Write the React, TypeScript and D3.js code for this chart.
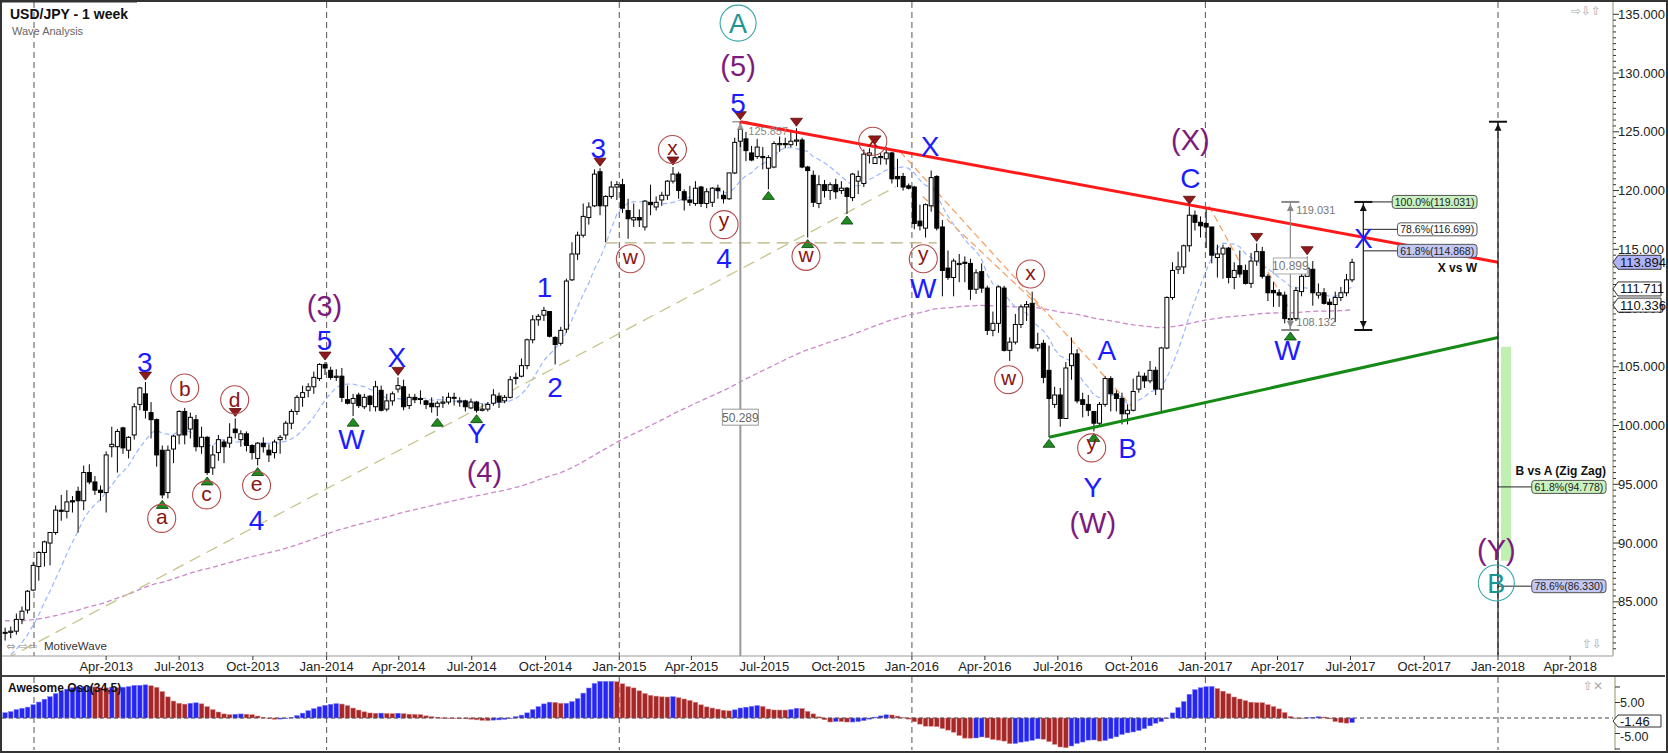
import React from 'react';
import * as d3 from 'd3';

const FONT = "'Liberation Sans', Arial, Helvetica, sans-serif";
const SYM = "'DejaVu Sans', sans-serif";

// Weekly bars [open, high, low, close]; first bar = week of 26 Nov 2012
const bars2012: number[][] = [
  [82.4, 82.8, 81.7, 82.4], [82.4, 82.9, 81.9, 82.5], [82.5, 84.0, 82.2, 83.5],
  [83.5, 84.6, 83.1, 84.2], [84.3, 86.0, 84.0, 85.9], [86.0, 88.4, 85.9, 88.1],
];
const bars2013: number[][] = [
  [88.0, 89.3, 86.8, 89.2], [89.2, 90.2, 88.0, 90.1], [90.0, 90.9, 88.1, 90.9], [90.9, 93.2, 90.7, 92.8],
  [92.8, 94.1, 91.9, 92.7], [92.7, 94.5, 92.1, 93.5], [93.6, 94.0, 92.6, 93.5], [94.4, 94.8, 90.9, 93.6],
  [93.6, 96.6, 92.8, 96.0], [96.0, 96.7, 95.0, 95.2], [95.2, 95.7, 94.1, 94.5], [94.5, 94.9, 93.6, 94.3],
  [94.3, 97.8, 92.6, 97.5], [98.2, 99.9, 97.3, 98.4], [98.2, 99.7, 96.0, 99.5], [99.8, 99.9, 97.6, 98.1],
  [97.9, 99.1, 97.2, 99.0], [99.2, 101.9, 98.8, 101.6], [101.8, 103.3, 101.3, 103.2], [102.7, 103.7, 100.6, 101.3],
  [101.1, 102.0, 98.9, 100.5], [100.5, 100.6, 96.5, 97.5], [97.9, 98.3, 93.8, 94.1], [94.3, 98.3, 93.8, 97.9],
  [98.0, 99.2, 96.8, 99.1], [99.2, 101.3, 98.4, 101.2], [101.2, 101.5, 98.4, 99.2], [99.7, 101.1, 98.9, 100.7],
  [100.5, 100.9, 97.8, 98.2], [98.2, 99.9, 97.6, 99.0], [99.0, 99.1, 95.8, 96.0], [96.4, 98.3, 95.8, 97.5],
  [97.7, 99.2, 97.0, 98.8], [98.6, 98.8, 96.8, 98.2], [98.5, 100.2, 98.1, 99.0], [99.7, 100.6, 98.9, 99.4],
  [98.8, 99.6, 98.2, 99.3], [99.3, 99.5, 97.8, 98.3], [98.3, 98.4, 97.1, 97.7], [97.2, 98.6, 96.6, 98.5],
  [98.5, 99.0, 97.7, 98.2], [97.9, 98.4, 96.9, 97.5], [97.7, 98.8, 97.2, 98.6], [98.8, 99.2, 97.6, 99.0],
  [99.2, 100.4, 98.8, 100.2], [100.2, 101.4, 99.7, 101.2], [101.2, 102.6, 100.9, 102.4], [102.4, 103.4, 101.6, 102.8],
  [103.0, 103.6, 102.4, 103.3], [103.3, 104.6, 102.7, 104.1], [104.0, 105.3, 103.8, 105.2], [105.2, 105.4, 104.3, 104.9],
];
const bars2014: number[][] = [
  [104.7, 105.0, 103.9, 104.1], [104.1, 104.8, 103.8, 104.2], [104.2, 104.9, 102.0, 102.4], [102.2, 103.4, 101.8, 101.9],
  [101.9, 102.7, 100.8, 102.3], [102.6, 102.8, 101.5, 101.7], [101.6, 102.7, 101.4, 102.4], [102.5, 102.6, 101.2, 101.8],
  [101.6, 103.8, 101.2, 103.3], [103.0, 103.4, 101.2, 101.3], [101.4, 102.7, 101.2, 102.1], [102.1, 102.9, 101.7, 102.7],
  [103.1, 104.1, 102.8, 103.4], [103.3, 103.9, 101.3, 101.6], [101.7, 102.7, 101.4, 102.4], [102.4, 102.7, 101.9, 102.2],
  [102.3, 103.0, 101.8, 102.3], [102.1, 102.2, 101.4, 101.8], [101.9, 102.4, 101.1, 101.6], [101.6, 102.1, 100.8, 101.9],
  [101.9, 102.5, 101.5, 102.0], [102.0, 102.8, 101.8, 102.4], [102.4, 102.8, 101.7, 102.4], [102.0, 102.4, 101.6, 102.1],
  [102.1, 102.2, 101.2, 101.6], [101.5, 102.3, 101.4, 102.0], [102.0, 102.1, 101.1, 101.3], [101.3, 101.9, 101.2, 101.4],
  [101.4, 102.0, 101.2, 101.8], [101.9, 103.1, 101.7, 102.6], [102.5, 102.8, 101.5, 102.0], [102.1, 102.6, 101.9, 102.4],
  [102.4, 104.2, 102.3, 103.9], [104.0, 104.5, 103.5, 104.1], [104.2, 105.7, 104.1, 105.1], [105.1, 107.4, 104.8, 107.3],
  [107.3, 109.4, 107.0, 109.0], [109.0, 109.5, 108.5, 109.3], [109.4, 110.1, 108.9, 109.8], [109.7, 109.7, 107.5, 107.6],
  [107.5, 107.6, 105.2, 106.9], [107.0, 108.4, 106.8, 108.1], [108.2, 112.5, 107.9, 112.3], [112.4, 115.6, 112.3, 114.6],
  [114.6, 116.5, 114.1, 116.2], [116.2, 118.9, 116.0, 117.8], [117.7, 119.0, 117.1, 118.6], [118.7, 121.8, 118.6, 121.4],
  [121.6, 121.9, 117.9, 118.7], [118.7, 119.6, 115.6, 119.5], [119.5, 120.8, 119.3, 120.3], [120.3, 120.8, 119.2, 120.5],
];
const bars2015: number[][] = [
  [120.5, 121.0, 118.1, 118.5], [118.3, 119.3, 115.9, 117.6], [117.5, 118.9, 116.9, 117.7], [117.7, 118.4, 116.9, 117.5],
  [116.9, 119.2, 116.6, 119.1], [119.0, 120.5, 117.9, 118.8], [118.6, 119.5, 118.3, 119.0], [119.2, 119.9, 118.7, 119.6],
  [119.6, 120.9, 119.2, 120.8], [120.8, 122.0, 120.6, 121.4], [121.4, 121.6, 119.3, 120.0], [119.9, 120.1, 118.3, 119.2],
  [119.2, 120.4, 118.7, 119.0], [118.9, 120.8, 118.7, 120.2], [120.3, 120.4, 118.6, 118.9], [118.9, 120.2, 118.5, 119.9],
  [119.0, 120.3, 118.6, 120.2], [120.2, 120.5, 119.3, 120.0], [119.6, 120.0, 118.9, 119.3], [119.3, 121.5, 119.2, 121.5],
  [121.5, 124.5, 121.4, 124.1], [124.2, 125.857, 123.7, 125.2], [124.4, 125.0, 122.5, 123.4], [123.2, 123.8, 122.5, 122.6],
  [122.9, 124.4, 122.7, 123.7], [122.9, 123.7, 121.8, 122.8], [121.9, 123.0, 120.1, 122.8], [122.0, 124.2, 121.9, 124.0],
  [123.9, 124.6, 123.3, 124.0], [124.0, 124.5, 123.6, 123.9], [123.9, 125.0, 123.7, 124.2], [124.2, 125.3, 123.8, 124.3],
  [124.3, 124.5, 121.9, 122.0], [122.0, 122.1, 116.0, 121.7], [121.3, 121.7, 118.6, 119.0], [118.9, 121.3, 118.5, 120.5],
  [120.5, 120.9, 119.4, 120.0], [120.0, 120.7, 119.2, 120.5], [120.5, 121.0, 119.3, 119.9], [120.0, 120.8, 119.7, 120.2],
  [120.2, 120.3, 118.0, 119.5], [119.4, 121.5, 119.1, 121.4], [120.8, 121.7, 119.7, 121.2], [120.6, 123.5, 120.3, 123.1],
  [123.0, 123.6, 122.3, 123.2], [122.3, 123.8, 122.3, 122.8], [122.8, 123.2, 122.2, 122.9], [122.7, 123.7, 122.2, 123.2],
  [123.2, 123.3, 120.6, 121.0], [121.2, 122.7, 120.3, 121.0], [121.2, 121.5, 120.0, 120.3], [120.4, 120.6, 120.1, 120.2],
];
const bars2016: number[][] = [
  [120.3, 120.4, 116.7, 117.2], [117.4, 118.8, 116.6, 117.0], [116.8, 118.9, 116.0, 118.8], [118.7, 121.7, 118.2, 121.1],
  [121.2, 121.3, 116.6, 116.8], [116.9, 117.5, 111.0, 113.2], [113.4, 114.9, 112.4, 112.6], [112.6, 114.2, 111.0, 114.0],
  [113.7, 114.6, 112.2, 113.8], [113.9, 114.4, 112.2, 113.8], [113.8, 114.2, 110.7, 111.6], [111.6, 113.3, 111.2, 113.0],
  [113.1, 113.8, 111.3, 111.7], [111.7, 111.9, 107.7, 108.1], [108.1, 109.7, 107.6, 108.7], [108.7, 111.9, 107.9, 111.8],
  [111.7, 111.9, 106.3, 106.4], [106.4, 107.5, 105.5, 107.1], [107.1, 109.5, 106.9, 108.6], [108.6, 110.3, 108.3, 110.1],
  [110.1, 110.6, 108.9, 110.3], [110.4, 111.4, 106.5, 106.6], [106.6, 107.9, 106.3, 106.9], [107.0, 107.3, 103.6, 104.1],
  [104.7, 106.8, 99.0, 102.3], [101.8, 103.3, 101.5, 102.6], [102.6, 103.2, 99.9, 100.6], [100.6, 105.4, 100.6, 104.9],
  [105.1, 107.5, 103.9, 106.1], [106.1, 106.5, 101.9, 102.1], [102.2, 102.8, 100.7, 101.8], [101.8, 102.6, 100.8, 101.3],
  [101.2, 101.2, 99.5, 100.2], [100.2, 102.0, 99.9, 101.8], [101.8, 104.2, 101.6, 104.0], [104.0, 104.2, 101.2, 102.7],
  [102.7, 103.0, 101.2, 102.3], [102.3, 102.8, 100.1, 101.0], [101.0, 101.8, 100.1, 101.3], [101.3, 104.0, 101.2, 102.9],
  [103.1, 104.6, 102.8, 104.2], [104.2, 104.5, 103.2, 103.8], [103.8, 105.5, 103.6, 104.7], [104.7, 105.0, 102.6, 103.1],
  [103.1, 106.7, 101.2, 106.6], [106.6, 111.0, 106.5, 110.9], [110.9, 113.9, 110.7, 113.2], [113.3, 114.8, 112.9, 113.5],
  [113.5, 115.4, 112.9, 115.3], [115.3, 118.66, 114.8, 117.9], [117.9, 118.3, 116.6, 117.3], [117.3, 117.8, 116.0, 117.0],
];
const bars2017: number[][] = [
  [117.2, 118.6, 115.1, 116.9], [116.9, 116.9, 113.8, 114.5], [114.3, 115.4, 112.6, 114.6], [114.6, 115.4, 112.5, 115.1],
  [115.1, 115.2, 112.1, 112.6], [112.6, 113.9, 111.6, 113.2], [113.6, 114.9, 112.6, 112.9], [113.2, 113.7, 112.0, 112.1],
  [112.1, 114.7, 111.7, 114.0], [114.0, 115.5, 113.6, 114.8], [114.8, 115.2, 112.5, 112.7], [112.7, 112.9, 110.6, 111.3],
  [111.5, 112.2, 110.1, 111.3], [111.3, 111.6, 110.1, 111.1], [111.1, 111.4, 108.7, 109.1], [109.1, 109.5, 108.132, 109.0],
  [109.1, 111.8, 108.9, 111.5], [111.4, 112.9, 111.0, 112.7], [112.7, 114.37, 112.7, 113.4], [113.3, 114.0, 110.2, 111.3],
  [111.1, 112.1, 110.8, 111.3], [111.3, 111.7, 110.3, 110.4], [110.5, 110.8, 109.1, 110.3], [110.3, 111.4, 108.8, 110.9],
  [110.9, 111.8, 110.6, 111.3], [111.3, 112.9, 111.0, 112.4], [112.4, 114.2, 112.2, 113.894],
];
// weekly closes before the first bar (Apr-Nov 2012), used only to warm up the indicators
const priorCloses = [80.9, 81.5, 80.3, 79.8, 79.9, 79.0, 79.7, 78.3, 79.5, 78.7, 80.4, 79.8, 79.7, 79.2, 78.5, 78.3,
  78.4, 78.3, 79.5, 78.7, 78.3, 78.3, 78.4, 78.1, 77.9, 78.7, 78.4, 79.3, 79.9, 80.4, 79.5, 81.3, 82.4];

const quarterTicks = ['Apr-2013', 'Jul-2013', 'Oct-2013', 'Jan-2014', 'Apr-2014', 'Jul-2014', 'Oct-2014', 'Jan-2015',
  'Apr-2015', 'Jul-2015', 'Oct-2015', 'Jan-2016', 'Apr-2016', 'Jul-2016', 'Oct-2016', 'Jan-2017', 'Apr-2017',
  'Jul-2017', 'Oct-2017', 'Jan-2018', 'Apr-2018'];
const yearLines = ['Jan-2013', 'Jan-2014', 'Jan-2015', 'Jan-2016', 'Jan-2017', 'Jan-2018'];
const priceTicks = [85, 90, 95, 100, 105, 110, 115, 120, 125, 130, 135];
const oscTicks = [-10, -5, 0, 5, 10];
const oscLabels = [5, -5];

const lastClose = 113.894;
const fastMaLast = 111.711;
const slowMaLast = 110.336;
const aoLast = -1.46;
const slowEmaSeed = 83.4;

// wave labels: [text, week index, price]
const blueLabels: [string, number, number][] = [
  ['3', 24.9, 105.4], ['4', 44.8, 92.0], ['5', 56.9, 107.3], ['W', 61.7, 98.9], ['X', 69.8, 105.8],
  ['Y', 84.0, 99.4], ['1', 96.1, 111.8], ['2', 98.0, 103.3], ['3', 105.7, 123.6], ['4', 128.1, 114.3],
  ['5', 130.6, 127.5], ['X', 164.8, 123.8], ['W', 163.6, 111.7], ['A', 196.3, 106.4], ['Y', 193.8, 94.8],
  ['B', 200.0, 98.1], ['C', 211.2, 121.1], ['W', 228.5, 106.4], ['X', 242.0, 116.0],
];
const purpleLabels: [string, number, number][] = [
  ['(3)', 56.9, 110.1], ['(4)', 85.4, 96.0], ['(5)', 130.6, 130.6], ['(X)', 211.2, 124.3], ['(W)', 193.8, 91.7],
  ['(Y)', 265.7, 89.4],
];
const circleLabels: [string, number, number][] = [
  ['a', 27.9, 92.1], ['b', 32.0, 103.2], ['c', 35.9, 94.1], ['d', 40.9, 102.2], ['e', 44.8, 94.9],
  ['w', 111.4, 114.2], ['x', 118.9, 123.5], ['y', 128.1, 117.1], ['w', 142.7, 114.4], ['x', 154.6, 124.2],
  ['y', 163.6, 114.2], ['x', 182.7, 112.9], ['w', 178.8, 103.9], ['y', 193.6, 98.1],
];
const tealLabels: [string, number, number][] = [['A', 130.6, 134.25], ['B', 265.7, 86.6]];
const topMarkers = [25, 41, 57, 70, 106, 119, 131, 141, 155, 211, 223, 232];
const bottomMarkers = [28, 36, 45, 62, 77, 84, 136, 143, 150, 186, 194, 229];

// drawn lines: [[week, price], [week, price]]
const redTrend = [[131, 125.857], [266, 113.9]];
const greenTrend = [[186, 99.0], [266, 107.5]];
const tanDiagonal = [[0, 80.1], [158.7, 120.33]];
const tanFlat = [[107, 115.55], [166, 115.55]];
const orangeLines = [
  [[159.5, 123.3], [201, 101.5]], [[163.5, 119.5], [185, 109.8]],
  [[214.5, 118.7], [220, 113.9]], [[224, 113.9], [229, 109.8]],
];
const peakA = 125.857;
const legAB = 50.289;
const wLow = 108.132;
const xHigh = 119.031;
const measureWeek = 229;
const bracketWeek = 242;
const xvwLevels = [
  { t: '100.0%(119.031)', v: 119.031, fill: '#c9f2c0' },
  { t: '78.6%(116.699)', v: 116.699, fill: '#ffffff' },
  { t: '61.8%(114.868)', v: 114.868, fill: '#c3c7f4' },
];
const bvaLevels = [
  { t: '61.8%(94.778)', v: 94.778, fill: '#c9f2c0' },
  { t: '78.6%(86.330)', v: 86.33, fill: '#c3c7f4' },
];
const greenZone = [106.7, 88.5];

const PLOT_R = 1613;
const PLOT_B = 656;
const OSC_T = 677;
const OSC_B = 750;

export default function App() {
  const bars = [...bars2012, ...bars2013, ...bars2014, ...bars2015, ...bars2016, ...bars2017];
  const parse = d3.timeParse('%b-%Y');
  const t0 = new Date(2012, 10, 26).getTime();
  const dateAt = (i: number) => new Date(t0 + i * 7 * 864e5);
  const x = d3.scaleTime().domain([new Date(2013, 0, 1), new Date(2018, 0, 1)]).range([34, 1498]);
  const y = d3.scaleLinear().domain([85, 135]).range([601.8, 14.3]);
  const yo = d3.scaleLinear().domain([-5, 5]).range([733.5, 702.5]);
  const xi = (i: number) => x(dateAt(i)) as number;
  const xJan18 = x(parse('Jan-2018') as Date) as number;

  const P = priorCloses.length;
  const closes = bars.map(b => b[3]);
  const allCloses = [...priorCloses, ...closes];
  const fastMa = closes.map((_, i) => d3.mean(allCloses.slice(P + i - 9, P + i + 1)) as number);
  let e = slowEmaSeed;
  const slowMa = closes.map(c => (e = e + (c - e) * 2 / 161));
  const medians = [...priorCloses, ...bars.map(b => (b[1] + b[2]) / 2)];
  const ao = bars.map((_, i) => {
    const j = P + i;
    return (d3.mean(medians.slice(j - 4, j + 1)) as number) - (d3.mean(medians.slice(Math.max(0, j - 33), j + 1)) as number);
  });

  const line = d3.line<number>().x((_, i) => xi(i)).y(v => y(v));
  const seg = (s: number[][]) => ({ x1: xi(s[0][0]), y1: y(s[0][1]), x2: xi(s[1][0]), y2: y(s[1][1]) });

  const priceBox = (v: number, fill: string, label: string, yy?: number, half = 7) => {
    const yc = yy ?? y(v);
    const x0 = 1613, x1 = 1661;
    return (
      <g key={label}>
        <polygon points={`${x0},${yc} ${x0 + 5},${yc - half} ${x1},${yc - half} ${x1},${yc + half} ${x0 + 5},${yc + half}`}
          fill={fill} stroke="#333" strokeWidth={1} />
        <text x={x0 + 7} y={yc + 4.5} fontSize={13} fontFamily={FONT} fill="#111">{label}</text>
      </g>
    );
  };

  const fibBox = (t: string, v: number, fill: string, right: number, lineFrom: number, k: string) => {
    const w = t.length * 5.25 + 6;
    const yc = y(v);
    return (
      <g key={k}>
        <line x1={lineFrom} x2={right - w} y1={yc} y2={yc} stroke="#222" strokeWidth={1} />
        <rect x={right - w} y={yc - 6.5} width={w} height={13} rx={3} fill={fill} stroke="#555" strokeWidth={1} />
        <text x={right - w / 2} y={yc + 4} textAnchor="middle" fontSize={10.5} fontFamily={FONT} fill="#222">{t}</text>
      </g>
    );
  };

  const arrow = (cx: number, yy: number, up: boolean, color: string) => (
    <polygon points={up ? `${cx - 3.5},${yy + 7} ${cx + 3.5},${yy + 7} ${cx},${yy}` : `${cx - 3.5},${yy - 7} ${cx + 3.5},${yy - 7} ${cx},${yy}`}
      fill={color} />
  );

  const circDy = (t: string) => (t === 'y' ? '0.12em' : t === 'b' || t === 'd' ? '0.36em' : '0.27em');

  return (
    <svg width={1668} height={753} style={{ position: 'absolute', left: 0, top: 0, background: '#fff' }}
      fontFamily={FONT}>
      <defs>
        <clipPath id="plot"><rect x={2} y={2} width={PLOT_R - 2} height={PLOT_B - 2} /></clipPath>
        <clipPath id="osc"><rect x={2} y={OSC_T} width={PLOT_R - 2} height={OSC_B - OSC_T} /></clipPath>
      </defs>
      <rect x={0} y={0} width={1668} height={753} fill="#fff" />

      {/* year grid lines */}
      {yearLines.map(s => {
        const xx = x(parse(s) as Date) as number;
        return (
          <g key={s}>
            <line x1={xx} x2={xx} y1={2} y2={PLOT_B} stroke="#555" strokeDasharray="6,4" />
            <line x1={xx} x2={xx} y1={OSC_T} y2={OSC_B} stroke="#555" strokeDasharray="6,4" />
          </g>
        );
      })}

      <g clipPath="url(#plot)">
        {/* moving averages */}
        <path d={line(slowMa) as string} fill="none" stroke="#cc88cc" strokeWidth={1.3} strokeDasharray="5,3" />
        <path d={line(fastMa) as string} fill="none" stroke="#9bb8ff" strokeWidth={1.2} strokeDasharray="5,3" />
        <line {...seg(tanDiagonal)} stroke="#c8c48c" strokeWidth={1.3} strokeDasharray="12,7" />
        <line {...seg(tanFlat)} stroke="#b8b07a" strokeWidth={1.3} strokeDasharray="12,7" />
        {orangeLines.map((s, k) => <line key={k} {...seg(s)} stroke="#f4a46a" strokeWidth={1.3} strokeDasharray="7,4" />)}

        {/* long measure from A */}
        <line x1={xi(131)} x2={xi(131)} y1={y(peakA)} y2={y(peakA - legAB)} stroke="#999" strokeWidth={2} />
        <line x1={xi(131) - 8} x2={xi(131) + 8} y1={y(peakA)} y2={y(peakA)} stroke="#999" strokeWidth={1.5} />

        {/* candles */}
        {bars.map((b, i) => {
          const cx = xi(i);
          const [o, h, l, c] = b;
          const top = y(Math.max(o, c));
          const bh = Math.max(1, y(Math.min(o, c)) - top);
          return (
            <g key={i}>
              <line x1={cx} x2={cx} y1={y(h)} y2={y(l)} stroke="#000" strokeWidth={1} />
              <rect x={cx - 2} y={top} width={4} height={bh} fill={c >= o ? '#fff' : '#000'} stroke="#000" strokeWidth={1} />
            </g>
          );
        })}

        {/* trend lines */}
        <line {...seg(redTrend)} stroke="#ff1a1a" strokeWidth={3} />
        <line {...seg(greenTrend)} stroke="#168a16" strokeWidth={3} />

        {/* 2017 measure (grey) */}
        <line x1={xi(measureWeek)} x2={xi(measureWeek)} y1={y(xHigh)} y2={y(wLow)} stroke="#888" strokeWidth={1.2} />
        <line x1={xi(measureWeek) - 9} x2={xi(measureWeek) + 9} y1={y(xHigh)} y2={y(xHigh)} stroke="#888" strokeWidth={2} />
        <line x1={xi(measureWeek) - 9} x2={xi(measureWeek) + 9} y1={y(wLow)} y2={y(wLow)} stroke="#888" strokeWidth={2} />
        {arrow(xi(measureWeek), y(xHigh) + 2, true, '#888')}
        {arrow(xi(measureWeek), y(wLow) - 2, false, '#888')}
        <text x={xi(measureWeek) + 6} y={y(xHigh) + 12} fontSize={11} fill="#777">119.031</text>
        <text x={xi(measureWeek) + 6} y={y(wLow) - 4} fontSize={11} fill="#777">108.132</text>
        <rect x={xi(measureWeek) - 17} y={y((xHigh + wLow) / 2) - 8} width={34} height={16} fill="#fff" stroke="#aaa" />
        <text x={xi(measureWeek)} y={y((xHigh + wLow) / 2) + 4.5} textAnchor="middle" fontSize={12} fill="#777">10.899</text>

        {/* X vs W bracket */}
        <line x1={xi(bracketWeek)} x2={xi(bracketWeek)} y1={y(xHigh)} y2={y(wLow)} stroke="#111" strokeWidth={1.2} />
        <line x1={xi(bracketWeek) - 9} x2={xi(bracketWeek) + 9} y1={y(xHigh)} y2={y(xHigh)} stroke="#111" strokeWidth={2} />
        <line x1={xi(bracketWeek) - 9} x2={xi(bracketWeek) + 9} y1={y(wLow)} y2={y(wLow)} stroke="#111" strokeWidth={2} />
        {arrow(xi(bracketWeek), y(xHigh) + 2, true, '#111')}
        {arrow(xi(bracketWeek), y(wLow) - 2, false, '#111')}
        {xvwLevels.map((lv, k) => fibBox(lv.t, lv.v, lv.fill, 1477, xi(bracketWeek), 'x' + k))}
        <text x={1477} y={y(114.868) + 21} textAnchor="end" fontSize={12} fontWeight="bold" fill="#111">X vs W</text>

        {/* B vs A projection */}
        <rect x={xJan18 + 3} y={y(greenZone[0])} width={10} height={y(greenZone[1]) - y(greenZone[0])} fill="#bff0b0" />
        <line x1={xJan18} x2={xJan18} y1={y(peakA)} y2={y(peakA - legAB)} stroke="#111" strokeWidth={1.2} />
        <line x1={xJan18 - 9} x2={xJan18 + 9} y1={y(peakA)} y2={y(peakA)} stroke="#111" strokeWidth={2} />
        {arrow(xJan18, y(peakA) + 2, true, '#111')}
        {bvaLevels.map((lv, k) => fibBox(lv.t, lv.v, lv.fill, 1606, xJan18, 'b' + k))}
        <text x={1606} y={y(94.778) - 12} textAnchor="end" fontSize={12} fontWeight="bold" fill="#111">B vs A (Zig Zag)</text>

        {/* measure labels near A */}
        {arrow(xi(131), y(peakA) + 1, true, '#999')}
        <text x={xi(131) + 8} y={y(peakA) + 13} fontSize={11} fill="#888">125.857</text>
        <rect x={xi(131) - 18} y={y(peakA - legAB / 2) - 8} width={36} height={16} fill="#fff" stroke="#999" />
        <text x={xi(131)} y={y(peakA - legAB / 2) + 4.5} textAnchor="middle" fontSize={12} fill="#666">50.289</text>

        {/* swing markers */}
        {topMarkers.map(i => {
          const cx = xi(i), yt = y(bars[i][1]) - 2;
          return <polygon key={'t' + i} points={`${cx - 6},${yt - 8} ${cx + 6},${yt - 8} ${cx},${yt}`} fill="#8e1b1b" stroke="#5a0d0d" strokeWidth={0.8} />;
        })}
        {bottomMarkers.map(i => {
          const cx = xi(i), yb = y(bars[i][2]) + 2;
          return <polygon key={'b' + i} points={`${cx - 6},${yb + 8} ${cx + 6},${yb + 8} ${cx},${yb}`} fill="#1e8c1e" stroke="#0c3d0c" strokeWidth={0.8} />;
        })}

        {/* wave labels */}
        {circleLabels.map(([t, i, p], k) => (
          <g key={'c' + k}>
            <circle cx={xi(i)} cy={y(p)} r={14} fill="none" stroke="#b34a4a" strokeWidth={1.1} />
            <text x={xi(i)} y={y(p)} dy={circDy(t)} textAnchor="middle" fontSize={21} fill="#8b1414">{t}</text>
          </g>
        ))}
        {tealLabels.map(([t, i, p], k) => (
          <g key={'t' + k}>
            <circle cx={xi(i)} cy={y(p)} r={18} fill="none" stroke="#3aa6a6" strokeWidth={1.1} />
            <text x={xi(i)} y={y(p)} dy="0.36em" textAnchor="middle" fontSize={27} fill="#1a9494">{t}</text>
          </g>
        ))}
        {blueLabels.map(([t, i, p], k) => (
          <text key={'l' + k} x={xi(i)} y={y(p)} dy="0.36em" textAnchor="middle" fontSize={28} fill="#1c1cff">{t}</text>
        ))}
        {purpleLabels.map(([t, i, p], k) => (
          <text key={'p' + k} x={xi(i)} y={y(p)} dy="0.33em" textAnchor="middle" fontSize={29} fill="#7d1b7d">{t}</text>
        ))}
      </g>

      {/* titles */}
      <text x={10} y={19} fontSize={14} fontWeight="bold" fill="#111">USD/JPY - 1 week</text>
      <text x={12} y={35} fontSize={11} fill="#666">Wave Analysis</text>
      <text x={6} y={650} fontSize={11} fill="#999" fontFamily={SYM}>⇔ ⇨⇦</text>
      <text x={44} y={650} fontSize={11.5} fill="#333">MotiveWave</text>
      <text x={1571} y={15} fontSize={12} fill="#aaa" fontFamily={SYM}>⇨⇩⇧</text>
      <text x={1582} y={648} fontSize={12} fill="#aaa" fontFamily={SYM}>⇧⇩</text>

      {/* plot frame and price axis */}
      <line x1={2} x2={PLOT_R} y1={PLOT_B} y2={PLOT_B} stroke="#999" />
      <line x1={PLOT_R} x2={PLOT_R} y1={2} y2={PLOT_B} stroke="#b8b49c" strokeWidth={1.5} />
      {d3.range(81, 135.01, 0.5).map(v => (
        <line key={'m' + v} x1={PLOT_R} x2={PLOT_R + (v % 5 === 0 ? 6 : 3)} y1={y(v)} y2={y(v)} stroke="#333" />
      ))}
      {priceTicks.map(v => (
        <text key={'pt' + v} x={1618} y={y(v) + 4.5} fontSize={13} fill="#222">{v.toFixed(3)}</text>
      ))}
      {priceBox(lastClose, '#aeb2f8', lastClose.toFixed(3))}
      {priceBox(fastMaLast, '#ffffff', fastMaLast.toFixed(3), y(fastMaLast) + 1)}
      {priceBox(slowMaLast, '#ffffff', slowMaLast.toFixed(3), y(slowMaLast) + 1)}

      {/* time axis */}
      <line x1={2} x2={1665} y1={OSC_T - 1} y2={OSC_T - 1} stroke="#444" strokeWidth={2} />
      {quarterTicks.map(s => {
        const xx = x(parse(s) as Date) as number;
        return (
          <g key={s}>
            <line x1={xx} x2={xx} y1={PLOT_B} y2={PLOT_B + 4} stroke="#333" />
            <text x={xx} y={671} textAnchor="middle" fontSize={13} fill="#222">{s}</text>
          </g>
        );
      })}

      {/* oscillator */}
      <g clipPath="url(#osc)">
        {ao.map((v, i) => {
          const up = i === 0 ? true : v > ao[i - 1];
          const y1 = yo(Math.max(0, v)), y2 = yo(Math.min(0, v));
          return <rect key={'a' + i} x={xi(i) - 2.3} y={y1} width={4.6} height={Math.max(0.5, y2 - y1)}
            fill={up ? '#2626f0' : '#a52828'} stroke={up ? '#7f7fff' : '#e08080'} strokeWidth={0.5} />;
        })}
      </g>
      <line x1={2} x2={PLOT_R} y1={yo(0)} y2={yo(0)} stroke="#444" strokeDasharray="4,3" />
      <text x={8} y={692} fontSize={12} fontWeight="bold" fill="#111">Awesome Osc(34,5)</text>
      <text x={1583} y={690} fontSize={12} fill="#aaa" fontFamily={SYM}>⇧✕</text>
      <line x1={PLOT_R + 2} x2={PLOT_R + 2} y1={OSC_T} y2={OSC_B} stroke="#b8b49c" strokeWidth={1.5} />
      {oscTicks.map(v => <line key={'ot' + v} x1={PLOT_R + 2} x2={PLOT_R + 7} y1={yo(v)} y2={yo(v)} stroke="#333" />)}
      <text x={1620} y={yo(5) + 4} fontSize={12.5} fill="#222">{oscLabels[0].toFixed(2)}</text>
      <text x={1620} y={yo(-5) + 7} fontSize={12.5} fill="#222">{oscLabels[1].toFixed(2)}</text>
      {priceBox(aoLast, '#ffffff', aoLast.toFixed(2), yo(aoLast) - 1.5, 6)}

      {/* outer frame */}
      <rect x={1} y={1} width={1666} height={751} fill="none" stroke="#333" strokeWidth={2} />
      <line x1={0} x2={137} y1={1} y2={1} stroke="#333" strokeWidth={3} />
    </svg>
  );
}
